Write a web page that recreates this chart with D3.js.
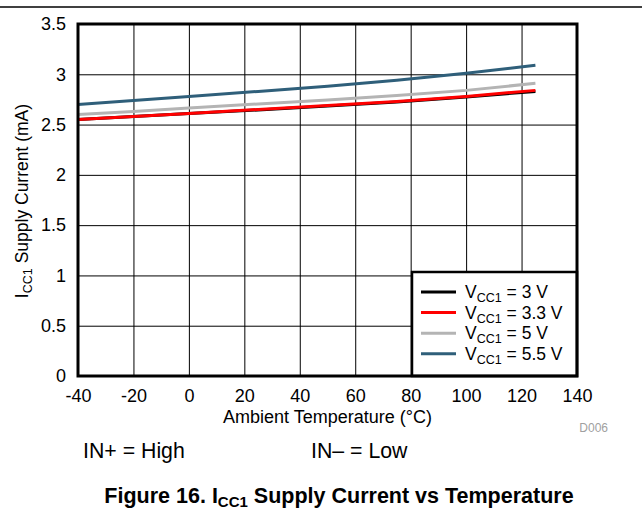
<!DOCTYPE html>
<html>
<head>
<meta charset="utf-8">
<script src="https://cdn.jsdelivr.net/npm/d3@7"></script>
<style>
body { margin: 0; background: #fff; }
svg { display: block; font-family: "Liberation Sans", Arial, sans-serif; }
</style>
</head>
<body>
<svg></svg>
<script>
// readings from the figure
var temps = [-40, -20, 0, 25, 50, 75, 100, 125]
var v3  = [2.55, 2.58, 2.61, 2.645, 2.685, 2.725, 2.775, 2.83]
var v33 = [2.55, 2.58, 2.61, 2.65, 2.69, 2.73, 2.78, 2.84]
var v5  = [2.60, 2.63, 2.665, 2.705, 2.745, 2.79, 2.84, 2.91]
var v55 = [2.70, 2.74, 2.78, 2.83, 2.88, 2.94, 3.01, 3.09]
var seriesNames = ["3", "3.3", "5", "5.5"]
var seriesColors = ["#000000", "#ff0000", "#b4b4b4", "#2f5f7a"]
var xTicks = [-40, -20, 0, 20, 40, 60, 80, 100, 120, 140]
var yTicks = [0, 0.5, 1, 1.5, 2, 2.5, 3, 3.5]

var width = 642, height = 510
var padL = 78, padR = 577, padT = 24, padB = 376

var svg = d3.select("svg").attr("width", width).attr("height", height)

var xScale = d3.scaleLinear().domain([-40, 140]).range([padL, padR])
var yScale = d3.scaleLinear().domain([0, 3.5]).range([padB, padT])

// top rule
svg.append("line")
    .attr("x1", 0).attr("x2", width)
    .attr("y1", 7).attr("y2", 7)
    .attr("stroke", "#000").attr("stroke-width", 1.5)

// grid
var xAxis = d3.axisBottom(xScale).tickValues(xTicks).tickSize(-(padB - padT)).tickPadding(0).tickFormat(d => d)
var yAxis = d3.axisLeft(yScale).tickValues(yTicks).tickSize(-(padR - padL)).tickPadding(12).tickFormat(d => d)

var gx = svg.append("g").attr("transform", "translate(0," + padB + ")").call(xAxis)
var gy = svg.append("g").attr("transform", "translate(" + padL + ",0)").call(yAxis)
;[gx, gy].forEach(function(g){
    g.select(".domain").remove()
    g.selectAll("line").attr("stroke", "#000").attr("stroke-width", 1)
    g.selectAll("text").attr("fill", "#000").style("font-size", "18px")
})
gx.selectAll("text").attr("y", 26).attr("dy", 0)

// series
var series = [v3, v33, v5, v55]
var line = d3.line().x((d, i) => xScale(temps[i])).y(d => yScale(d))
svg.selectAll("path.series")
    .data(series)
    .enter()
    .append("path")
    .attr("class", "series")
    .attr("d", d => line(d))
    .attr("fill", "none")
    .attr("stroke", (d, i) => seriesColors[i])
    .attr("stroke-width", 3)

// legend box
var lx = 412, ly = 272
svg.append("rect")
    .attr("x", lx).attr("y", ly)
    .attr("width", padR - lx).attr("height", padB - ly)
    .attr("fill", "#fff").attr("stroke", "#000").attr("stroke-width", 2.5)

var leg = svg.selectAll("g.leg")
    .data(seriesNames)
    .enter()
    .append("g")
    .attr("class", "leg")
    .attr("transform", (d, i) => "translate(0," + (292 + i * 20.6) + ")")
leg.append("line")
    .attr("x1", 421).attr("x2", 456)
    .attr("stroke", (d, i) => seriesColors[i])
    .attr("stroke-width", 3)
var lt = leg.append("text")
    .attr("x", 465).attr("y", 6)
    .style("font-size", "17.5px")
lt.append("tspan").text("V")
lt.append("tspan").attr("dy", 4).style("font-size", "12.5px").text("CC1")
lt.append("tspan").attr("dy", -4).text(d => " = " + d + " V")

// plot border
svg.append("rect")
    .attr("x", padL).attr("y", padT)
    .attr("width", padR - padL).attr("height", padB - padT)
    .attr("fill", "none").attr("stroke", "#000").attr("stroke-width", 3)

// axis titles
svg.append("text")
    .attr("x", (padL + padR) / 2).attr("y", 423)
    .attr("text-anchor", "middle")
    .style("font-size", "18px")
    .text("Ambient Temperature (°C)")

var yt = svg.append("text")
    .attr("transform", "translate(28,201) rotate(-90)")
    .attr("text-anchor", "middle")
    .style("font-size", "17.5px")
yt.append("tspan").text("I")
yt.append("tspan").attr("dy", 4).style("font-size", "12.5px").text("CC1")
yt.append("tspan").attr("dy", -4).text(" Supply Current (mA)")

svg.append("text")
    .attr("x", 608).attr("y", 432)
    .attr("text-anchor", "end")
    .attr("fill", "#a0a0a0")
    .style("font-size", "12px")
    .text("D006")

svg.append("text").attr("x", 83).attr("y", 458).style("font-size", "21.3px").text("IN+ = High")
svg.append("text").attr("x", 311).attr("y", 458).style("font-size", "21.3px").text("IN\u2013 = Low")

var ft = svg.append("text")
    .attr("x", 339).attr("y", 503)
    .attr("text-anchor", "middle")
    .style("font-size", "21.5px").style("font-weight", "bold")
ft.append("tspan").text("Figure 16. I")
ft.append("tspan").attr("dy", 4).style("font-size", "15px").text("CC1")
ft.append("tspan").attr("dy", -4).text(" Supply Current vs Temperature")
</script>
</body>
</html>
